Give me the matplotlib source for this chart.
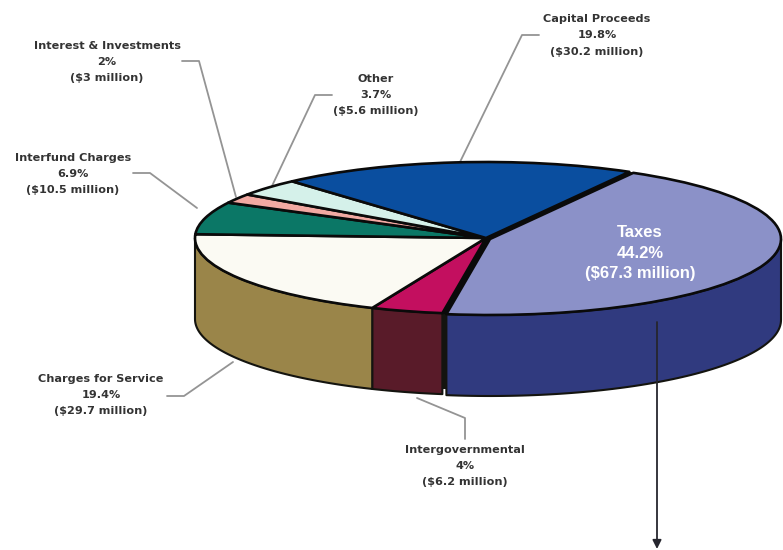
import numpy as np
import matplotlib
matplotlib.use('Agg')
import matplotlib.pyplot as plt
from matplotlib.patches import Wedge, Polygon, Ellipse
from matplotlib.transforms import Affine2D

categories = ['Taxes', 'Intergovernmental', 'Charges for Service', 'Interfund Charges',
              'Interest & Investments', 'Other', 'Capital Proceeds']
percents = [44.2, 4, 19.4, 6.9, 2, 3.7, 19.8]
amounts = ['$67.3 million', '$6.2 million', '$29.7 million', '$10.5 million',
           '$3 million', '$5.6 million', '$30.2 million']
top_colors = ['#8b91c8', '#c30f5f', '#fbfaf3', '#0b7766', '#f2a9a2', '#d5f1ea', '#0a4e9f']
side_colors = ['#303a7f', '#591b29', '#9a8549', '#0a5a4d', '#b57f7a', '#a0b5b0', '#083a78']

# pie geometry in pixels
cx, cy = 486, 238
rx, ry = 291, 76
depth = 81
start = 60.5
# the big slice is pulled out a little
offsets = [(4, 1), (0, 0), (0, 0), (0, 0), (0, 0), (0, 0), (0, 0)]

fig = plt.figure(figsize=(7.83, 5.5), dpi=100)
ax = fig.add_axes([0, 0, 1, 1])
ax.set_xlim(0, 783)
ax.set_ylim(550, 0)
ax.axis('off')

theta1 = start
angles = []
for p in percents:
    theta0 = theta1 - p * 3.6
    angles.append((theta0, theta1))
    theta1 = theta0

# outer walls first, only the part facing front
wall_edges = []
for (a0, a1), side, (dx, dy) in zip(angles, side_colors, offsets):
    lo = max(a0, -180)
    hi = min(a1, 0)
    if hi <= lo:
        continue
    t = np.radians(np.linspace(lo, hi, 80))
    xs = cx + dx + rx * np.cos(t)
    ys = cy + dy - ry * np.sin(t)
    wall_edges.append((xs[0], xs[-1], ys[0]))
    pts = np.vstack([np.column_stack([xs, ys]), np.column_stack([xs, ys + depth])[::-1]])
    ax.add_patch(Polygon(pts, closed=True, facecolor=side, edgecolor='#14140f', lw=1.5,
                         joinstyle='round', zorder=2))

# dark seam where the pulled-out slice leaves the pie, stops short of the bottom rim
seam_x0 = wall_edges[1][1]
seam_x1 = wall_edges[0][0]
seam_y = wall_edges[0][2]
ax.add_patch(Polygon([(seam_x0, seam_y), (seam_x1, seam_y), (seam_x1, seam_y + depth - 6),
                      (seam_x0, seam_y + depth - 6)], closed=True, facecolor='#14140f',
                     edgecolor='none', zorder=1.9))

# black base under the top faces closes the gap round the pulled-out slice
for dx, dy in offsets[:2]:
    ax.add_patch(Ellipse((cx + dx, cy + dy), 2 * rx, 2 * ry, facecolor='#0a0a0a',
                         edgecolor='none', zorder=2.5))

# top faces
for (a0, a1), top, (dx, dy) in zip(angles, top_colors, offsets):
    squash = Affine2D().scale(rx, -ry).translate(cx + dx, cy + dy) + ax.transData
    ax.add_patch(Wedge((0, 0), 1, a0, a1, facecolor=top, edgecolor='#0a0a0a', lw=1.9,
                       joinstyle='round', transform=squash, zorder=3))

# leader lines
grey = '#949494'
leaders = [
    ([182, 199, 236], [61, 61, 197]),
    ([332, 315, 272], [95, 95, 186]),
    ([133, 150, 197], [173, 173, 208]),
    ([539, 522, 460], [35, 35, 162]),
    ([167, 184, 233], [396, 396, 362]),
    ([417, 465, 465], [398, 418, 439]),
]
for xs, ys in leaders:
    ax.plot(xs, ys, color=grey, lw=1.3, zorder=1, solid_capstyle='round')

# arrow down from the taxes wall
ax.annotate('', xy=(657, 549), xytext=(657, 322),
            arrowprops=dict(arrowstyle='-|>', color='#26262e', lw=1.3, mutation_scale=13,
                            shrinkA=0, shrinkB=0), zorder=5)

label_pos = [(640, 253), (465, 466), (101, 395), (73, 174), (107, 62), (376, 95), (597, 35.5)]
for i, name in enumerate(categories):
    txt = '%s\n%s%%\n(%s)' % (name, ('%g' % percents[i]), amounts[i])
    if name == 'Taxes':
        ax.text(label_pos[i][0], label_pos[i][1], txt, color='white', ha='center', va='center',
                fontsize=12, family='Liberation Sans', linespacing=1.45, fontweight='bold', zorder=6)
    else:
        ax.text(label_pos[i][0], label_pos[i][1], txt, color='#333333', ha='center', va='center',
                fontsize=8.1, family='DejaVu Sans', linespacing=1.8, fontweight='bold', zorder=6)

fig.savefig('out.png', dpi=100)
